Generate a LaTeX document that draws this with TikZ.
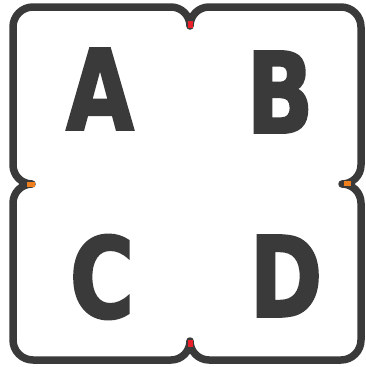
\documentclass[tikz,border=0pt]{standalone}
\usepackage{fontspec}
\newfontfamily\letterfont[FakeStretch=0.78,FakeBold=2]{DejaVu Sans}
\definecolor{ink}{HTML}{3A3A3A}
\definecolor{dotred}{HTML}{E8202A}
\definecolor{dotorange}{HTML}{F0801E}
\begin{document}
\begin{tikzpicture}[x=1pt,y=-1pt,
  outline/.style={draw=ink,line width=7.5pt,line join=round},
  letter/.style={text=ink,inner sep=0pt,font=\letterfont\fontsize{112}{112}\bfseries\selectfont}]
\useasboundingbox (0,0) rectangle (365,367);
\draw[outline]
  (13,27) arc[start angle=180,end angle=270,radius=20] -- (171,7)
  arc[start angle=-90,end angle=0,radius=19]
  arc[start angle=180,end angle=270,radius=19] -- (341,7)
  arc[start angle=-90,end angle=0,radius=20] -- (361,165)
  arc[start angle=0,end angle=90,radius=19]
  arc[start angle=-90,end angle=0,radius=19] -- (361,340)
  arc[start angle=0,end angle=90,radius=20] -- (209,360)
  arc[start angle=90,end angle=180,radius=19]
  arc[start angle=0,end angle=90,radius=19] -- (33,360)
  arc[start angle=90,end angle=180,radius=20] -- (13,203)
  arc[start angle=180,end angle=270,radius=19]
  arc[start angle=90,end angle=180,radius=19] -- cycle;
\fill[dotred] (188,21) rectangle (193,28);
\fill[dotred] (188,340) rectangle (193,347);
\fill[dotorange] (27,182) rectangle (35,187);
\fill[dotorange] (344,181) rectangle (351,186);
\node[letter] (A) at (100,89) {A};
\node[letter] (B) at (280,92) {B};
\node[letter] (C) at (102,277) {C};
\node[letter] (D) at (286,276) {D};
\end{tikzpicture}
\end{document}
